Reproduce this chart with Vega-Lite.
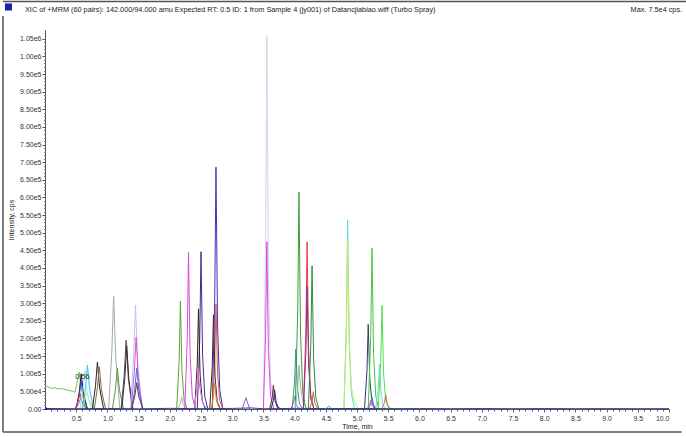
{
 "$schema": "https://vega.github.io/schema/vega-lite/v6.json",
 "width": 624, "height": 379,
 "autosize": {"type": "none"},
 "padding": {"left": 45, "top": 30, "right": 17, "bottom": 28},
 "background": "white",
 "config": {"view": {"stroke": null}, "font": "Liberation Sans", "axis": {"grid": false, "labelFont": "Liberation Sans", "titleFont": "Liberation Sans"}},
 "datasets": {"one": [{"k": 1}]},
 "data": {"values": [
  {"s":"g0","t":0,"v":68000},{"s":"g0","t":0.04,"v":64000},{"s":"g0","t":0.08,"v":60000},{"s":"g0","t":0.12,"v":58000},{"s":"g0","t":0.16,"v":61000},{"s":"g0","t":0.2,"v":57000},{"s":"g0","t":0.25,"v":58000},{"s":"g0","t":0.3,"v":56000},{"s":"g0","t":0.35,"v":54000},{"s":"g0","t":0.4,"v":52000},{"s":"g0","t":0.45,"v":50000},{"s":"g0","t":0.48,"v":47000},{"s":"g0","t":0.52,"v":80000},{"s":"g0","t":0.55,"v":105000},{"s":"g0","t":0.58,"v":60000},{"s":"g0","t":0.62,"v":20000},{"s":"g0","t":0.66,"v":3000},{"s":"g0","t":0.7,"v":0},
  {"s":"p01","t":0.5,"v":0},{"s":"p01","t":0.55,"v":50000},{"s":"p01","t":0.58,"v":100000},{"s":"p01","t":0.615,"v":45000},{"s":"p01","t":0.68,"v":0},
  {"s":"p02","t":0.5,"v":0},{"s":"p02","t":0.55,"v":40000},{"s":"p02","t":0.58,"v":80000},{"s":"p02","t":0.615,"v":36000},{"s":"p02","t":0.68,"v":0},
  {"s":"p03","t":0.48,"v":0},{"s":"p03","t":0.53,"v":22000},{"s":"p03","t":0.56,"v":45000},{"s":"p03","t":0.595,"v":20000},{"s":"p03","t":0.66,"v":0},
  {"s":"p04","t":0.49,"v":0},{"s":"p04","t":0.54,"v":15000},{"s":"p04","t":0.57,"v":30000},{"s":"p04","t":0.605,"v":13000},{"s":"p04","t":0.67,"v":0},
  {"s":"p05","t":0.58,"v":0},{"s":"p05","t":0.63,"v":25000},{"s":"p05","t":0.66,"v":45000},{"s":"p05","t":0.7,"v":30000},{"s":"p05","t":0.75,"v":10000},{"s":"p05","t":0.8,"v":0},
  {"s":"p06","t":0.6,"v":0},{"s":"p06","t":0.65,"v":62000},{"s":"p06","t":0.68,"v":125000},{"s":"p06","t":0.715,"v":56000},{"s":"p06","t":0.78,"v":0},
  {"s":"p07","t":0.56,"v":0},{"s":"p07","t":0.61,"v":55000},{"s":"p07","t":0.64,"v":110000},{"s":"p07","t":0.675,"v":50000},{"s":"p07","t":0.74,"v":0},
  {"s":"p08","t":0.76,"v":0},{"s":"p08","t":0.81,"v":66000},{"s":"p08","t":0.84,"v":133000},{"s":"p08","t":0.875,"v":60000},{"s":"p08","t":0.94,"v":0},
  {"s":"p09","t":0.79,"v":0},{"s":"p09","t":0.84,"v":60000},{"s":"p09","t":0.87,"v":120000},{"s":"p09","t":0.905,"v":54000},{"s":"p09","t":0.97,"v":0},
  {"s":"p10","t":1.02,"v":0},{"s":"p10","t":1.07,"v":160000},{"s":"p10","t":1.1,"v":320000},{"s":"p10","t":1.135,"v":144000},{"s":"p10","t":1.2,"v":0},
  {"s":"p11","t":1.08,"v":0},{"s":"p11","t":1.13,"v":57000},{"s":"p11","t":1.16,"v":115000},{"s":"p11","t":1.195,"v":52000},{"s":"p11","t":1.26,"v":0},
  {"s":"p12","t":1.22,"v":0},{"s":"p12","t":1.27,"v":97000},{"s":"p12","t":1.3,"v":195000},{"s":"p12","t":1.335,"v":88000},{"s":"p12","t":1.4,"v":0},
  {"s":"p13","t":1.23,"v":0},{"s":"p13","t":1.28,"v":90000},{"s":"p13","t":1.31,"v":180000},{"s":"p13","t":1.345,"v":81000},{"s":"p13","t":1.41,"v":0},
  {"s":"p14","t":1.37,"v":0},{"s":"p14","t":1.42,"v":147000},{"s":"p14","t":1.45,"v":295000},{"s":"p14","t":1.485,"v":133000},{"s":"p14","t":1.55,"v":0},
  {"s":"p15","t":1.38,"v":0},{"s":"p15","t":1.43,"v":102000},{"s":"p15","t":1.46,"v":204000},{"s":"p15","t":1.495,"v":92000},{"s":"p15","t":1.56,"v":0},
  {"s":"p16","t":1.39,"v":0},{"s":"p16","t":1.44,"v":58000},{"s":"p16","t":1.47,"v":116000},{"s":"p16","t":1.505,"v":52000},{"s":"p16","t":1.57,"v":0},
  {"s":"p17","t":1.39,"v":0},{"s":"p17","t":1.44,"v":37000},{"s":"p17","t":1.47,"v":75000},{"s":"p17","t":1.505,"v":34000},{"s":"p17","t":1.57,"v":0},
  {"s":"p18","t":2.11,"v":0},{"s":"p18","t":2.15,"v":138000},{"s":"p18","t":2.17,"v":306000},{"s":"p18","t":2.195,"v":107000},{"s":"p18","t":2.23,"v":24000},{"s":"p18","t":2.28,"v":0},
  {"s":"p19","t":2.13,"v":0},{"s":"p19","t":2.17,"v":16000},{"s":"p19","t":2.19,"v":35000},{"s":"p19","t":2.215,"v":12000},{"s":"p19","t":2.25,"v":3000},{"s":"p19","t":2.3,"v":0},
  {"s":"p20","t":2.24,"v":0},{"s":"p20","t":2.28,"v":200000},{"s":"p20","t":2.3,"v":444000},{"s":"p20","t":2.325,"v":155000},{"s":"p20","t":2.36,"v":36000},{"s":"p20","t":2.41,"v":0},
  {"s":"p21","t":2.44,"v":0},{"s":"p21","t":2.48,"v":200000},{"s":"p21","t":2.5,"v":446000},{"s":"p21","t":2.525,"v":156000},{"s":"p21","t":2.56,"v":36000},{"s":"p21","t":2.61,"v":0},
  {"s":"p22","t":2.4,"v":0},{"s":"p22","t":2.44,"v":128000},{"s":"p22","t":2.46,"v":284000},{"s":"p22","t":2.485,"v":99000},{"s":"p22","t":2.52,"v":23000},{"s":"p22","t":2.57,"v":0},
  {"s":"p23","t":2.39,"v":0},{"s":"p23","t":2.43,"v":52000},{"s":"p23","t":2.45,"v":116000},{"s":"p23","t":2.48,"v":60000},{"s":"p23","t":2.53,"v":15000},{"s":"p23","t":2.6,"v":0},
  {"s":"p24","t":2.68,"v":0},{"s":"p24","t":2.72,"v":309000},{"s":"p24","t":2.74,"v":686000},{"s":"p24","t":2.765,"v":240000},{"s":"p24","t":2.8,"v":55000},{"s":"p24","t":2.85,"v":0},
  {"s":"p25","t":2.68,"v":0},{"s":"p25","t":2.72,"v":134000},{"s":"p25","t":2.74,"v":298000},{"s":"p25","t":2.765,"v":104000},{"s":"p25","t":2.8,"v":24000},{"s":"p25","t":2.85,"v":0},
  {"s":"p26","t":2.64,"v":0},{"s":"p26","t":2.68,"v":120000},{"s":"p26","t":2.7,"v":267000},{"s":"p26","t":2.725,"v":93000},{"s":"p26","t":2.76,"v":21000},{"s":"p26","t":2.81,"v":0},
  {"s":"p27","t":2.66,"v":0},{"s":"p27","t":2.7,"v":33000},{"s":"p27","t":2.72,"v":74000},{"s":"p27","t":2.745,"v":26000},{"s":"p27","t":2.78,"v":6000},{"s":"p27","t":2.83,"v":0},
  {"s":"p28","t":3.16,"v":0},{"s":"p28","t":3.22,"v":32000},{"s":"p28","t":3.28,"v":0},
  {"s":"p29","t":3.5,"v":0},{"s":"p29","t":3.535,"v":477000},{"s":"p29","t":3.555,"v":1060000},{"s":"p29","t":3.58,"v":371000},{"s":"p29","t":3.615,"v":85000},{"s":"p29","t":3.665,"v":0},
  {"s":"p30","t":3.5,"v":0},{"s":"p30","t":3.535,"v":213000},{"s":"p30","t":3.555,"v":474000},{"s":"p30","t":3.58,"v":166000},{"s":"p30","t":3.615,"v":38000},{"s":"p30","t":3.665,"v":0},
  {"s":"p31","t":3.6,"v":0},{"s":"p31","t":3.64,"v":31000},{"s":"p31","t":3.66,"v":68000},{"s":"p31","t":3.685,"v":24000},{"s":"p31","t":3.72,"v":5000},{"s":"p31","t":3.77,"v":0},
  {"s":"p32","t":3.62,"v":0},{"s":"p32","t":3.66,"v":24000},{"s":"p32","t":3.68,"v":54000},{"s":"p32","t":3.705,"v":19000},{"s":"p32","t":3.74,"v":4000},{"s":"p32","t":3.79,"v":0},
  {"s":"p33","t":3.96,"v":0},{"s":"p33","t":4.0,"v":76000},{"s":"p33","t":4.02,"v":170000},{"s":"p33","t":4.045,"v":60000},{"s":"p33","t":4.08,"v":14000},{"s":"p33","t":4.13,"v":0},
  {"s":"p34","t":3.94,"v":0},{"s":"p34","t":3.98,"v":16000},{"s":"p34","t":4.0,"v":35000},{"s":"p34","t":4.025,"v":12000},{"s":"p34","t":4.06,"v":3000},{"s":"p34","t":4.11,"v":0},
  {"s":"p35","t":4.01,"v":0},{"s":"p35","t":4.05,"v":277000},{"s":"p35","t":4.07,"v":615000},{"s":"p35","t":4.095,"v":215000},{"s":"p35","t":4.13,"v":49000},{"s":"p35","t":4.18,"v":0},
  {"s":"p36","t":4.01,"v":0},{"s":"p36","t":4.05,"v":56000},{"s":"p36","t":4.07,"v":125000},{"s":"p36","t":4.095,"v":60000},{"s":"p36","t":4.14,"v":15000},{"s":"p36","t":4.2,"v":0},
  {"s":"p37","t":4.14,"v":0},{"s":"p37","t":4.18,"v":213000},{"s":"p37","t":4.2,"v":474000},{"s":"p37","t":4.225,"v":166000},{"s":"p37","t":4.26,"v":38000},{"s":"p37","t":4.31,"v":0},
  {"s":"p38","t":4.14,"v":0},{"s":"p38","t":4.18,"v":156000},{"s":"p38","t":4.2,"v":347000},{"s":"p38","t":4.225,"v":121000},{"s":"p38","t":4.26,"v":28000},{"s":"p38","t":4.31,"v":0},
  {"s":"p39","t":4.22,"v":0},{"s":"p39","t":4.26,"v":183000},{"s":"p39","t":4.28,"v":406000},{"s":"p39","t":4.305,"v":142000},{"s":"p39","t":4.34,"v":32000},{"s":"p39","t":4.39,"v":0},
  {"s":"p40","t":4.24,"v":0},{"s":"p40","t":4.28,"v":22000},{"s":"p40","t":4.3,"v":49000},{"s":"p40","t":4.325,"v":17000},{"s":"p40","t":4.36,"v":4000},{"s":"p40","t":4.41,"v":0},
  {"s":"p41","t":4.5,"v":0},{"s":"p41","t":4.55,"v":8000},{"s":"p41","t":4.6,"v":0},
  {"s":"p42","t":4.79,"v":0},{"s":"p42","t":4.83,"v":241000},{"s":"p42","t":4.85,"v":536000},{"s":"p42","t":4.875,"v":188000},{"s":"p42","t":4.91,"v":43000},{"s":"p42","t":4.96,"v":0},
  {"s":"p43","t":4.79,"v":0},{"s":"p43","t":4.83,"v":216000},{"s":"p43","t":4.85,"v":479000},{"s":"p43","t":4.875,"v":200000},{"s":"p43","t":4.91,"v":60000},{"s":"p43","t":4.96,"v":20000},{"s":"p43","t":5.02,"v":0},
  {"s":"p44","t":5.12,"v":0},{"s":"p44","t":5.16,"v":108000},{"s":"p44","t":5.18,"v":240000},{"s":"p44","t":5.205,"v":84000},{"s":"p44","t":5.24,"v":19000},{"s":"p44","t":5.29,"v":0},
  {"s":"p45","t":5.18,"v":0},{"s":"p45","t":5.22,"v":206000},{"s":"p45","t":5.24,"v":457000},{"s":"p45","t":5.265,"v":160000},{"s":"p45","t":5.3,"v":37000},{"s":"p45","t":5.35,"v":0},
  {"s":"p46","t":5.18,"v":0},{"s":"p46","t":5.22,"v":15000},{"s":"p46","t":5.24,"v":34000},{"s":"p46","t":5.265,"v":12000},{"s":"p46","t":5.3,"v":3000},{"s":"p46","t":5.35,"v":0},
  {"s":"p47","t":5.16,"v":0},{"s":"p47","t":5.2,"v":11000},{"s":"p47","t":5.22,"v":25000},{"s":"p47","t":5.245,"v":9000},{"s":"p47","t":5.28,"v":2000},{"s":"p47","t":5.33,"v":0},
  {"s":"p48","t":5.3,"v":0},{"s":"p48","t":5.34,"v":58000},{"s":"p48","t":5.36,"v":128000},{"s":"p48","t":5.385,"v":45000},{"s":"p48","t":5.42,"v":10000},{"s":"p48","t":5.47,"v":0},
  {"s":"p49","t":5.34,"v":0},{"s":"p49","t":5.38,"v":132000},{"s":"p49","t":5.4,"v":294000},{"s":"p49","t":5.425,"v":103000},{"s":"p49","t":5.46,"v":24000},{"s":"p49","t":5.51,"v":0},
  {"s":"p50","t":5.4,"v":0},{"s":"p50","t":5.44,"v":18000},{"s":"p50","t":5.46,"v":40000},{"s":"p50","t":5.485,"v":14000},{"s":"p50","t":5.52,"v":3000},{"s":"p50","t":5.57,"v":0},
  {"s":"zb","t":0,"v":1500},{"s":"zb","t":0.5,"v":800},{"s":"zb","t":1.0,"v":1500},{"s":"zb","t":1.5,"v":600},{"s":"zb","t":2.0,"v":1800},{"s":"zb","t":2.5,"v":900},{"s":"zb","t":3.0,"v":1600},{"s":"zb","t":3.3,"v":3000},{"s":"zb","t":3.5,"v":700},{"s":"zb","t":4.0,"v":1800},{"s":"zb","t":4.5,"v":1200},{"s":"zb","t":5.0,"v":1500},{"s":"zb","t":5.5,"v":1000},{"s":"zb","t":6.0,"v":1200},{"s":"zb","t":6.5,"v":900},{"s":"zb","t":7.0,"v":1300},{"s":"zb","t":7.5,"v":800},{"s":"zb","t":8.0,"v":1200},{"s":"zb","t":8.5,"v":900},{"s":"zb","t":9.0,"v":1100},{"s":"zb","t":9.5,"v":900},{"s":"zb","t":10.0,"v":1000}
 ]},
 "resolve": {"axis": {"x": "independent", "y": "independent"}},
 "layer": [
  {
   "mark": {"type": "line", "strokeWidth": 1, "clip": true},
   "encoding": {
    "x": {"field": "t", "type": "quantitative", "scale": {"domain": [0, 10], "nice": false, "zero": false},
          "axis": {"orient": "bottom", "values": [0.5,1,1.5,2,2.5,3,3.5,4,4.5,5,5.5,6,6.5,7,7.5,8,8.5,9,9.5,10], "format": ".1f", "labelFontSize": 7, "labelColor": "#333", "tickSize": 3, "tickColor": "#666", "domainColor": "#555", "labelPadding": 2, "title": "Time, min", "titleFontSize": 7, "titleFontWeight": "normal", "titleColor": "#222", "titlePadding": 1}},
    "y": {"field": "v", "type": "quantitative", "scale": {"domain": [0, 1075000], "nice": false},
          "axis": {"orient": "left", "values": [0,50000,100000,150000,200000,250000,300000,350000,400000,450000,500000,550000,600000,650000,700000,750000,800000,850000,900000,950000,1000000,1050000], "labelExpr": "datum.value == 0 ? '0.00' : replace(format(datum.value, '.2e'), 'e+', 'e')", "labelFontSize": 7, "labelColor": "#333", "tickSize": 3, "tickColor": "#555", "domainColor": "#555", "labelPadding": 1, "title": "Intensity, cps", "titleFontSize": 7, "titleFontWeight": "normal", "titleColor": "#222", "titlePadding": 5}},
    "color": {"field": "s", "type": "nominal", "legend": null, "scale": {
      "domain": ["g0","p01","p02","p03","p04","p05","p06","p07","p08","p09","p10","p11","p12","p13","p14","p15","p16","p17","p18","p19","p20","p21","p22","p23","p24","p25","p26","p27","p28","p29","p30","p31","p32","p33","p34","p35","p36","p37","p38","p39","p40","p41","p42","p43","p44","p45","p46","p47","p48","p49","p50","zb"],
      "range": ["#66cc44","#1e1e1e","#2c3cd4","#d83a3a","#a060c8","#e8e040","#30c8f0","#a0e4f0","#222222","#807040","#a8a8a8","#5c9c3c","#6c3c6c","#303030","#b8c8e4","#e050e0","#4a6ad4","#5a3a5a","#58a838","#b0b0b0","#e044e0","#3c3090","#3c1c1c","#e070e0","#3838b4","#e05454","#4a2424","#d08c34","#a054c4","#ccd8ee","#e044e0","#6c2c2c","#2c2c80","#2c9c8c","#9464c4","#3c9c3c","#a4b4a4","#f03c4c","#8c2c9c","#2c8c3c","#b46c4c","#5cac9c","#50dcf0","#c8ec54","#2c3c6c","#44c444","#5c6cd4","#d454d4","#74e0d0","#54dc54","#c47444","#2c3ca4"]}}
   }
  },
  {
   "data": {"name": "one"},
   "mark": {"type": "text", "text": "0.56", "fontSize": 7.5, "fill": "#333", "font": "Liberation Sans"},
   "encoding": {
    "x": {"datum": 0.6, "type": "quantitative", "scale": {"domain": [0, 10], "nice": false, "zero": false},
          "axis": {"orient": "bottom", "values": [0.1,0.2,0.3,0.4,0.6,0.7,0.8,0.9,1.1,1.2,1.3,1.4,1.6,1.7,1.8,1.9,2.1,2.2,2.3,2.4,2.6,2.7,2.8,2.9,3.1,3.2,3.3,3.4,3.6,3.7,3.8,3.9,4.1,4.2,4.3,4.4,4.6,4.7,4.8,4.9,5.1,5.2,5.3,5.4,5.6,5.7,5.8,5.9,6.1,6.2,6.3,6.4,6.6,6.7,6.8,6.9,7.1,7.2,7.3,7.4,7.6,7.7,7.8,7.9,8.1,8.2,8.3,8.4,8.6,8.7,8.8,8.9,9.1,9.2,9.3,9.4,9.6,9.7,9.8,9.9], "labels": false, "domain": false, "tickSize": 2, "tickColor": "#3c4cb0", "title": null}},
    "y": {"datum": 91000, "type": "quantitative", "scale": {"domain": [0, 1075000], "nice": false},
          "axis": {"orient": "left", "values": [10000,20000,30000,40000,60000,70000,80000,90000,110000,120000,130000,140000,160000,170000,180000,190000,210000,220000,230000,240000,260000,270000,280000,290000,310000,320000,330000,340000,360000,370000,380000,390000,410000,420000,430000,440000,460000,470000,480000,490000,510000,520000,530000,540000,560000,570000,580000,590000,610000,620000,630000,640000,660000,670000,680000,690000,710000,720000,730000,740000,760000,770000,780000,790000,810000,820000,830000,840000,860000,870000,880000,890000,910000,920000,930000,940000,960000,970000,980000,990000,1010000,1020000,1030000,1040000], "labels": false, "domain": false, "tickSize": 1.5, "tickColor": "#777", "title": null}}
   }
  },
  {
   "data": {"name": "one"},
   "mark": {"type": "text", "text": "XIC of +MRM (60 pairs): 142.000/94.000 amu Expected RT: 0.5 ID: 1 from Sample 4 (jy001) of Datancjiabiao.wiff (Turbo Spray)", "align": "left", "baseline": "middle", "fontSize": 7.3, "fill": "#222", "font": "Liberation Sans"},
   "encoding": {
    "x": {"datum": -0.3205, "type": "quantitative", "axis": null},
    "y": {"datum": 1131700, "type": "quantitative", "axis": null}
   }
  },
  {
   "data": {"name": "one"},
   "mark": {"type": "text", "text": "Max. 7.5e4 cps.", "align": "right", "baseline": "middle", "fontSize": 7.3, "fill": "#222", "font": "Liberation Sans"},
   "encoding": {
    "x": {"datum": 10.21, "type": "quantitative", "axis": null},
    "y": {"datum": 1131700, "type": "quantitative", "axis": null}
   }
  },
  {
   "data": {"name": "one"},
   "mark": {"type": "point", "shape": "square", "filled": true, "size": 50, "fill": "#1a22b0", "opacity": 1},
   "encoding": {
    "x": {"datum": -0.585, "type": "quantitative", "axis": null},
    "y": {"datum": 1140300, "type": "quantitative", "axis": null}
   }
  },
  {
   "data": {"name": "one"},
   "mark": {"type": "point", "shape": "triangle-right", "filled": true, "size": 14, "fill": "#1a22b0", "opacity": 1},
   "encoding": {
    "x": {"datum": 0.03, "type": "quantitative", "axis": null},
    "y": {"datum": 1000, "type": "quantitative", "axis": null}
   }
  },
  {
   "data": {"name": "one"},
   "mark": {"type": "rule", "stroke": "#555", "strokeWidth": 1.5},
   "encoding": {
    "x": {"datum": -0.673, "type": "quantitative", "axis": null},
    "y": {"datum": 1114700, "type": "quantitative", "axis": null},
    "y2": {"datum": -65240}
   }
  },
  {
   "data": {"name": "one"},
   "mark": {"type": "rule", "stroke": "#555", "strokeWidth": 1.5},
   "encoding": {
    "y": {"datum": -65240, "type": "quantitative", "axis": null},
    "x": {"datum": -0.673, "type": "quantitative", "axis": null},
    "x2": {"datum": 10.2}
   }
  },
  {
   "data": {"name": "one"},
   "mark": {"type": "rule", "stroke": "#555", "strokeWidth": 1.5},
   "encoding": {
    "y": {"datum": 1155800, "type": "quantitative", "axis": null},
    "x": {"datum": -0.673, "type": "quantitative", "axis": null},
    "x2": {"datum": 10.3}
   }
  }
 ]
}
